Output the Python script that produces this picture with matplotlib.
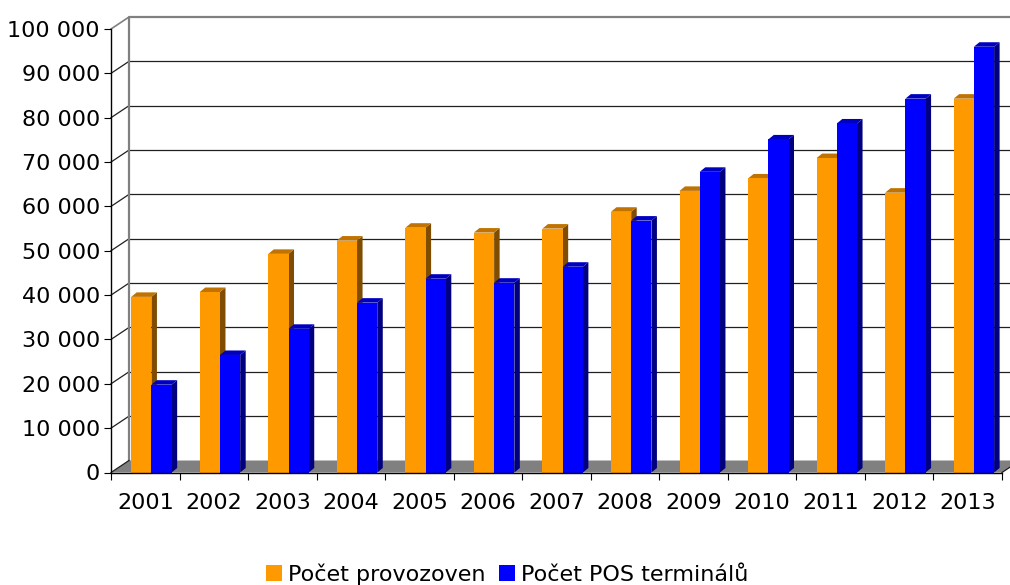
import matplotlib.pyplot as plt
from matplotlib.patches import Polygon, Rectangle, Patch

# data
years = [str(y) for y in range(2001, 2014)]
provozovny = [39600, 40700, 49300, 52300, 55200, 54100, 55000, 58800, 63500, 66300, 70900, 63100, 84300]
pos_terminaly = [19800, 26500, 32400, 38300, 43700, 42800, 46400, 56800, 67800, 75100, 78700, 84300, 96000]
series_names = ["Počet provozoven", "Počet POS terminálů"]
y_ticks = list(range(0, 100001, 10000))

# face colours: front, side, top
faces = [("#FF9900", "#7F4C00", "#C07300"), ("#0000FF", "#000080", "#0000C0")]

W, H = 1010, 585
fig = plt.figure(figsize=(W / 100, H / 100), dpi=100)

# front plane of the pseudo-3D box in pixels
x0, x1 = 111, 1002
y0, y1 = 472.5, 29
ax = fig.add_axes([x0 / W, 1 - y0 / H, (x1 - x0) / W, (y0 - y1) / H])
n = len(years)
ymax = y_ticks[-1]
ax.set_xlim(0, n)
ax.set_ylim(0, ymax)

# pixel -> data conversion for the depth offsets
sx = n / (x1 - x0)
sy = ymax / (y0 - y1)
wall_dx, wall_dy = 18 * sx, 12 * sy
bar_dx, bar_dy = 5.5 * sx, 4.5 * sy

# back wall gridlines + slanted lines on the left wall
for v in y_ticks[1:-1]:
    ax.plot([wall_dx, n + wall_dx], [v + wall_dy] * 2, color="#202020", lw=0.9,
            clip_on=False, zorder=1)
    ax.plot([0, wall_dx], [v, v + wall_dy], color="#202020", lw=0.9, clip_on=False, zorder=1)

# wall borders
ax.plot([wall_dx, wall_dx, n + wall_dx], [wall_dy, ymax + wall_dy, ymax + wall_dy],
        color="#808080", lw=1.6, clip_on=False, zorder=1)
ax.plot([0, wall_dx], [ymax, ymax + wall_dy], color="#808080", lw=1.2, clip_on=False, zorder=1)

# floor
ax.add_patch(Polygon([(0, 0), (n, 0), (n + wall_dx, wall_dy), (wall_dx, wall_dy)],
                     closed=True, facecolor="#808080", edgecolor="none", clip_on=False, zorder=2))
ax.plot([0, wall_dx], [0, wall_dy], color="#202020", lw=0.9, clip_on=False, zorder=2)
ax.plot([n, n + wall_dx], [0, wall_dy], color="#202020", lw=0.9, clip_on=False, zorder=2)

# bars
bw = 0.295
offsets = [0.295, 0.59]
z = 3
for i in range(n):
    for s, vals in enumerate([provozovny, pos_terminaly]):
        v = vals[i]
        front, side, top = faces[s]
        xl = i + offsets[s]
        xr = xl + bw
        ax.add_patch(Polygon([(xr, 0), (xr + bar_dx, bar_dy), (xr + bar_dx, v + bar_dy), (xr, v)],
                             closed=True, facecolor=side, edgecolor="none", zorder=z))
        ax.add_patch(Polygon([(xl, v), (xr, v), (xr + bar_dx, v + bar_dy), (xl + bar_dx, v + bar_dy)],
                             closed=True, facecolor=top, edgecolor="none", clip_on=False, zorder=z))
        ax.add_patch(Rectangle((xl, 0), bw, v, facecolor=front, edgecolor="none", zorder=z))
        z += 1

# axes
for side in ["top", "right"]:
    ax.spines[side].set_visible(False)
for side in ["left", "bottom"]:
    ax.spines[side].set_color("black")
    ax.spines[side].set_linewidth(1.0)
    ax.spines[side].set_zorder(50)

ax.set_yticks(y_ticks)
ax.set_yticklabels([f"{v:,}".replace(",", " ") for v in y_ticks])
ax.tick_params(axis="y", direction="out", length=5, width=0.8, pad=3, labelsize=16, colors="black")

ax.set_xticks(range(n + 1))
ax.set_xticklabels([])
ax.set_xticks([i + 0.5 for i in range(n)], minor=True)
ax.set_xticklabels(years, minor=True)
ax.tick_params(axis="x", which="major", direction="out", length=5, width=0.8)
ax.tick_params(axis="x", which="minor", length=0, pad=15, labelsize=16)

handles = [Patch(facecolor=faces[s][0], edgecolor="none") for s in range(2)]
fig.legend(handles, series_names, loc="center", bbox_to_anchor=(507 / W, 1 - 574 / H),
           ncol=2, frameon=False, fontsize=16, handlelength=0.72, handleheight=0.72,
           handletextpad=0.27, columnspacing=0.6)

fig.savefig("out.png", dpi=100)
